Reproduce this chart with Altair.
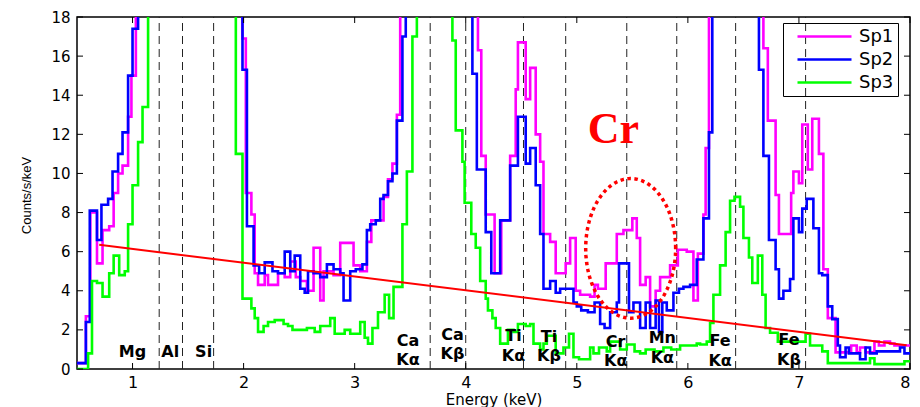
import altair as alt
import pandas as pd
import numpy as np

# ---------------- data ----------------
sp1_x = [0.50, 0.58, 0.62, 0.68, 0.73, 0.79, 0.83, 0.87, 0.91, 0.96, 0.99, 1.03,
         1.99, 2.02, 2.07, 2.10, 2.13, 2.19, 2.22, 2.31, 2.37, 2.42, 2.47, 2.51, 2.57,
         2.63, 2.69, 2.72, 2.81, 2.87, 2.99, 3.05, 3.11, 3.15, 3.26, 3.30, 3.34, 3.38, 3.41,
         4.11, 4.14, 4.18, 4.26, 4.32, 4.40, 4.45, 4.47, 4.54, 4.58, 4.63, 4.67, 4.70,
         4.76, 4.81, 4.90, 4.94, 4.99, 5.03, 5.12, 5.16, 5.19, 5.26, 5.36, 5.42, 5.50,
         5.54, 5.57, 5.62, 5.66, 5.71, 5.75, 5.84, 5.91, 5.99, 6.05, 6.09, 6.14, 6.16, 6.19,
         6.68, 6.72, 6.79, 6.82, 6.93, 6.95, 7.00, 7.03, 7.08, 7.12, 7.18, 7.22, 7.26,
         7.33, 7.47, 7.52, 7.55, 7.60, 7.68, 7.72, 7.77, 7.82, 7.86, 8.00]
sp1_y = [0.3, 2.7, 8.0, 5.4, 7.1, 7.3, 9.0, 10.0, 10.4, 12.9, 15.0, 25,
         16.9, 9.0, 7.9, 4.9, 4.3, 4.8, 4.3, 4.9, 4.7, 5.5, 4.7, 4.5, 4.0,
         6.2, 3.5, 5.0, 4.8, 6.45, 5.3, 5.0, 6.5, 7.6, 8.8, 9.7, 10.5, 13.0, 25,
         16.3, 10.9, 7.9, 4.9, 7.6, 10.9, 14.3, 16.7, 13.8, 15.4, 12.0, 10.6, 6.9,
         6.5, 4.9, 5.4, 6.7, 4.0, 3.8, 3.7, 4.3, 4.1, 5.4, 6.9, 7.1, 7.7,
         6.7, 4.3, 4.7, 3.2, 4.0, 4.7, 5.3, 6.1, 6.0, 3.5, 5.9, 7.9, 11.3, 25,
         16.4, 12.7, 8.9, 6.9, 9.0, 10.1, 9.5, 12.5, 10.2, 12.8, 11.0, 5.1, 2.6,
         0.85, 1.2, 0.85, 1.1, 0.85, 1.4, 1.2, 1.4, 1.3, 1.2, 1.2]

sp2_x = [0.50, 0.58, 0.615, 0.68, 0.72, 0.78, 0.82, 0.87, 0.91, 0.96, 1.00, 1.05,
         1.99, 2.03, 2.09, 2.14, 2.19, 2.26, 2.31, 2.37, 2.42, 2.46, 2.51, 2.55, 2.58,
         2.63, 2.69, 2.75, 2.81, 2.87, 2.90, 2.96, 3.01, 3.07, 3.11, 3.14, 3.19, 3.23,
         3.26, 3.30, 3.34, 3.38, 3.43, 3.46,
         4.06, 4.10, 4.18, 4.23, 4.31, 4.40, 4.47, 4.54, 4.58, 4.63, 4.67, 4.70,
         4.76, 4.81, 4.85, 4.97, 5.00, 5.04, 5.10, 5.16, 5.21, 5.25, 5.30, 5.36, 5.38,
         5.47, 5.51, 5.57, 5.62, 5.66, 5.71, 5.74, 5.77, 5.81, 5.87, 5.92, 5.96, 6.02,
         6.08, 6.14, 6.19, 6.22,
         6.64, 6.68, 6.73, 6.79, 6.82, 6.86, 6.92, 6.95, 7.00, 7.03, 7.07, 7.13, 7.18,
         7.21, 7.26, 7.30, 7.35, 7.37, 7.42, 7.45, 7.55, 7.60, 7.64, 7.70, 7.91, 7.95, 8.00]
sp2_y = [0.3, 2.4, 8.1, 6.6, 8.4, 8.7, 10.1, 11.0, 12.1, 15.0, 17.4, 25,
         15.3, 7.3, 5.3, 4.9, 5.45, 5.0, 4.9, 6.0, 5.0, 5.8, 4.1, 3.9, 5.0,
         4.9, 4.7, 5.35, 5.1, 4.9, 3.5, 5.0, 5.1, 5.35, 7.1, 7.4, 7.6, 8.7,
         8.9, 9.6, 10.0, 12.7, 17.0, 25,
         15.1, 10.2, 7.0, 4.9, 7.6, 10.4, 12.9, 10.5, 11.3, 9.4, 6.9, 4.1,
         4.5, 3.9, 4.1, 3.4, 3.2, 3.0, 2.9, 3.4, 2.3, 2.1, 2.9, 3.4, 5.4,
         2.9, 3.4, 2.1, 3.4, 2.1, 3.5, 1.9, 3.4, 3.0, 3.9, 4.1, 4.2, 4.3,
         5.6, 7.7, 12.1, 25,
         15.3, 10.9, 6.6, 5.1, 3.6, 4.0, 4.6, 7.7, 7.0, 8.2, 8.7, 7.2, 4.9,
         4.8, 3.2, 2.55, 1.2, 0.6, 1.1, 0.8, 0.5, 1.1, 0.8, 0.9, 1.1, 0.8, 0.8]

sp3_x = [0.50, 0.60, 0.635, 0.68, 0.73, 0.79, 0.83, 0.88, 0.93, 0.96, 1.00, 1.05, 1.09, 1.14,
         1.93, 1.99, 2.07, 2.10, 2.13, 2.18, 2.22, 2.28, 2.36, 2.40, 2.44, 2.51, 2.57,
         2.64, 2.69, 2.78, 2.82, 2.91, 2.96, 3.05, 3.09, 3.12, 3.16, 3.21, 3.27, 3.31,
         3.35, 3.39, 3.43, 3.47, 3.52, 3.56,
         3.88, 3.91, 3.97, 3.99, 4.05, 4.09, 4.13, 4.18, 4.20, 4.24, 4.27, 4.31, 4.38,
         4.43, 4.47, 4.54, 4.58, 4.61, 4.67, 4.70, 4.73, 4.81, 4.88, 4.93, 4.97, 5.02,
         5.12, 5.15, 5.20, 5.27, 5.30, 5.39, 5.45, 5.52, 5.57, 5.62, 5.70, 5.78, 5.85,
         5.93, 6.08, 6.11, 6.17, 6.20, 6.23, 6.29, 6.34, 6.38, 6.42, 6.47, 6.50, 6.55,
         6.58, 6.63, 6.67, 6.70, 6.74, 6.81, 7.06, 7.10, 7.21, 7.26, 7.55, 7.64, 7.68,
         7.95, 8.00]
sp3_y = [0.0, 0.8, 4.5, 4.4, 3.7, 4.9, 5.8, 4.8, 5.0, 7.4, 9.4, 11.6, 13.4, 25,
         11.0, 3.6, 3.1, 2.6, 1.9, 2.2, 2.4, 2.5, 2.3, 2.2, 2.0, 2.0, 2.1,
         1.9, 2.2, 2.6, 1.8, 2.0, 1.8, 2.4, 1.6, 1.3, 2.1, 2.9, 3.8, 2.6,
         4.2, 4.2, 7.4, 10.1, 17.0, 25,
         16.8, 12.2, 10.6, 8.5, 6.9, 6.2, 4.5, 3.6, 3.0, 2.6, 2.1, 1.3, 2.0,
         1.9, 2.3, 2.2, 2.3, 1.3, 1.0, 1.3, 1.7, 0.8, 1.1, 1.8, 0.6, 0.5,
         1.1, 0.8, 1.1, 0.9, 1.4, 1.0, 1.25, 0.9, 0.8, 1.0, 0.9, 1.1, 1.0,
         1.2, 1.3, 1.25, 1.4, 2.35, 3.8, 5.3, 7.0, 8.6, 8.8, 8.3, 6.7, 5.7,
         4.4, 5.8, 3.8, 2.1, 1.85, 1.4, 1.8, 1.2, 0.9, 0.3, 0.3, 0.55, 0.25,
         0.4, 0.4]

series_names = ["Sp1", "Sp2", "Sp3"]
series_colors = ["#ff00ff", "#0000ff", "#00ff00"]

# red background line (two end points)
red_x = [0.70, 7.97]
red_y = [6.35, 1.22]

# element line energies (dashed markers)
line_energies = [1.24, 1.45, 1.73, 3.68, 4.00, 4.52, 4.90, 5.45, 5.90, 6.43, 7.06]

# element labels: text, x, y
label_text = ["Mg", "Al", "Si", "Ca", "K\u03b1", "Ca", "K\u03b2", "Ti", "K\u03b1", "Ti", "K\u03b2",
              "Cr", "K\u03b1", "Mn", "K\u03b1", "Fe", "K\u03b1", "Fe", "K\u03b2"]
label_x = [1.00, 1.34, 1.64, 3.48, 3.48, 3.88, 3.88, 4.43, 4.43, 4.75, 4.75,
           5.35, 5.35, 5.77, 5.77, 6.29, 6.29, 6.91, 6.91]
label_y = [0.85, 0.85, 0.85, 1.45, 0.47, 1.75, 0.76, 1.70, 0.66, 1.65, 0.66,
           1.40, 0.41, 1.60, 0.56, 1.45, 0.41, 1.50, 0.46]

# "Cr" annotation and dotted ellipse (center, radii)
cr_text, cr_x, cr_y = "Cr", 5.33, 11.55
ell_cx, ell_cy, ell_rx, ell_ry = 5.485, 6.17, 0.405, 3.57

x_ticks = [1, 2, 3, 4, 5, 6, 7, 8]
y_ticks = [0, 2, 4, 6, 8, 10, 12, 14, 16, 18]
x_dom = [0.5, 8.0]
y_dom = [0, 18]

# ---------------- tables ----------------
W, H = 833, 352

spec_df = pd.concat([
    pd.DataFrame({"x": sp1_x, "y": sp1_y, "series": "Sp1"}),
    pd.DataFrame({"x": sp2_x, "y": sp2_y, "series": "Sp2"}),
    pd.DataFrame({"x": sp3_x, "y": sp3_y, "series": "Sp3"}),
], ignore_index=True)
spec_df["order"] = spec_df["series"].map({"Sp1": 0, "Sp2": 1, "Sp3": 2})

red_df = pd.DataFrame({"x": red_x, "y": red_y})
dash_df = pd.DataFrame({"x": line_energies, "y": y_dom[0], "y2": y_dom[1]})
lab_df = pd.DataFrame({"t": label_text, "x": label_x, "y": label_y})
cr_df = pd.DataFrame({"t": [cr_text], "x": [cr_x], "y": [cr_y]})
th = np.linspace(0, 2 * np.pi, 121)
ell_df = pd.DataFrame({"x": ell_cx + ell_rx * np.cos(th), "y": ell_cy + ell_ry * np.sin(th),
                       "i": np.arange(len(th))})

tx = 6 * (x_dom[1] - x_dom[0]) / W   # ~6 px tick length
ty = 6 * (y_dom[1] - y_dom[0]) / H
xt_df = pd.DataFrame({"x": x_ticks * 2,
                      "y": [y_dom[0]] * len(x_ticks) + [y_dom[1] - ty] * len(x_ticks),
                      "y2": [y_dom[0] + ty] * len(x_ticks) + [y_dom[1]] * len(x_ticks)})
yt_df = pd.DataFrame({"y": y_ticks * 2,
                      "x": [x_dom[0]] * len(y_ticks) + [x_dom[1] - tx] * len(y_ticks),
                      "x2": [x_dom[0] + tx] * len(y_ticks) + [x_dom[1]] * len(y_ticks)})

FONT = "DejaVu Sans"
xs = alt.Scale(domain=x_dom, nice=False, zero=False)
ys = alt.Scale(domain=y_dom, nice=False, zero=False)
xaxis = alt.Axis(values=x_ticks, title="Energy (keV)", labelFont=FONT, labelFontSize=16,
                 labelPadding=5, labelFlush=True, titleFont=FONT, titleFontSize=15,
                 titleFontWeight="normal", titleBaseline="alphabetic", titleY=35,
                 labelColor="black", titleColor="black")
yaxis = alt.Axis(values=y_ticks, title="Counts/s/keV", labelFont=FONT, labelFontSize=15,
                 labelPadding=7, titleFont="Liberation Sans", titleFontSize=13,
                 titleFontWeight="normal", titleX=-51, titleY=178, titleBaseline="middle",
                 labelColor="black", titleColor="black")


def X(f="x"):
    return alt.X(f, type="quantitative", scale=xs, axis=xaxis)


def Y(f="y"):
    return alt.Y(f, type="quantitative", scale=ys, axis=yaxis)


dashes = alt.Chart(dash_df).mark_rule(color="#222222", strokeWidth=1, strokeDash=[8, 5]).encode(
    x=X(), y=Y(), y2="y2")

spectra = alt.Chart(spec_df).mark_line(interpolate="step-after", strokeWidth=2.6, clip=True).encode(
    x=X(), y=Y(),
    color=alt.Color("series:N", scale=alt.Scale(domain=series_names, range=series_colors),
                    legend=alt.Legend(orient="none", legendX=706, legendY=6, title=None,
                                      symbolType="M0.125,0H6.875", symbolSize=256,
                                      symbolStrokeWidth=2.5, labelFont=FONT, labelFontSize=18,
                                      labelColor="black", strokeColor="black", padding=4,
                                      rowPadding=4, labelOffset=53)),
    order="order:Q")

red = alt.Chart(red_df).mark_line(color="#ff0000", strokeWidth=2).encode(x=X(), y=Y())

ellipse = alt.Chart(ell_df).mark_line(color="#ff0000", strokeWidth=3.5, strokeDash=[3.5, 3.5]).encode(
    x=X(), y=Y(), order="i:Q")

labels = alt.Chart(lab_df).mark_text(font=FONT, fontSize=16, fontWeight="bold", color="black",
                                     align="center", baseline="middle").encode(x=X(), y=Y(), text="t:N")

crlab = alt.Chart(cr_df).mark_text(font="Liberation Serif", fontSize=44, fontWeight="bold",
                                   color="#ff0000", align="center", baseline="alphabetic").encode(
    x=X(), y=Y(), text="t:N")

xticks = alt.Chart(xt_df).mark_rule(color="black", strokeWidth=1).encode(x=X(), y=Y(), y2="y2")
yticks = alt.Chart(yt_df).mark_rule(color="black", strokeWidth=1).encode(x=X(), y=Y(), x2="x2")

chart = alt.layer(dashes, spectra, red, ellipse, labels, crlab, xticks, yticks).properties(
    width=W, height=H,
    autosize=alt.AutoSizeParams(type="none"),
    padding={"left": 69, "top": 9, "right": 2, "bottom": 38},
).configure_view(stroke="black", strokeWidth=1.5).configure_axis(
    domain=False, grid=False, ticks=False, tickSize=0)

chart.save("out.html", embed_options={"renderer": "svg", "actions": False})
